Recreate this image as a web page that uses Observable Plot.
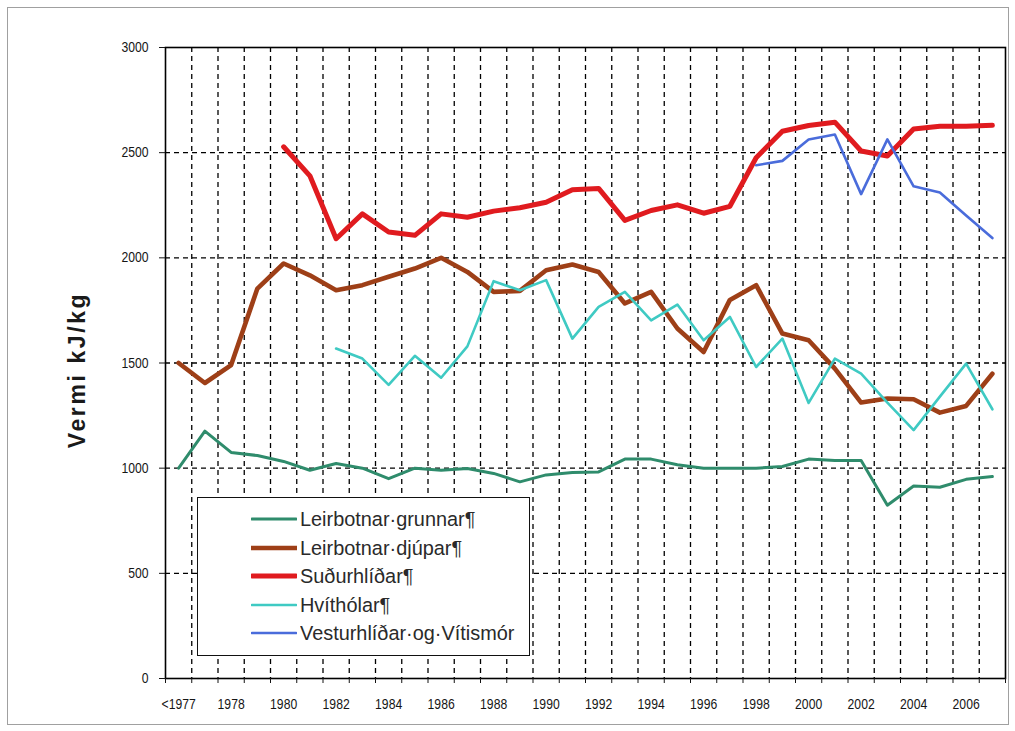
<!DOCTYPE html>
<html>
<head>
<meta charset="utf-8">
<script src="https://cdn.jsdelivr.net/npm/d3@7"></script>
<script src="https://cdn.jsdelivr.net/npm/@observablehq/plot@0.6"></script>
<style>
  html, body { margin: 0; padding: 0; background: #fff; }
  #wrap { position: relative; width: 1015px; height: 731px; font-family: "Liberation Sans", Arial, sans-serif; }
  #outer { position: absolute; left: 7px; top: 7px; width: 1000px; height: 716px; border: 1px solid #a0a0a0; pointer-events: none; }
  #legend { position: absolute; left: 197px; top: 497px; width: 331px; height: 157px; border: 1.5px solid #111; background: #fff; }
  .row { position: absolute; left: 0; height: 28px; display: flex; align-items: center; }
  .row svg { margin-left: 53px; }
  .row span { margin-left: 3px; font-size: 20.5px; color: #2a2a2a; white-space: nowrap; display: inline-block; transform: scaleX(0.97); transform-origin: left center; }
</style>
</head>
<body>
<div id="wrap">
  <div id="chart"></div>
  <div id="legend"></div>
  <div id="outer"></div>
</div>
<script>
// ---- data ----
const categories = ["<1977","1977","1978","1979","1980","1981","1982","1983","1984","1985","1986","1987","1988","1989","1990","1991","1992","1993","1994","1995","1996","1997","1998","1999","2000","2001","2002","2003","2004","2005","2006","2007"];

const leirbotnarGrunnar = [1000,1176,1075,1060,1032,990,1022,1000,950,1000,990,998,975,935,968,979,982,1043,1043,1016,1000,1000,1000,1008,1043,1037,1037,824,915,909,947,960];
const leirbotnarDjupar  = [1500,1405,1490,1854,1973,1917,1846,1870,1910,1949,2000,1933,1838,1843,1941,1968,1933,1783,1838,1664,1552,1800,1870,1640,1608,1473,1312,1331,1328,1264,1296,1449];
const sudurhlidar = [null,null,null,null,2528,2390,2091,2209,2123,2107,2209,2193,2222,2238,2264,2324,2330,2178,2225,2252,2212,2245,2476,2602,2629,2645,2508,2484,2613,2626,2626,2630];
const hvitholar = [null,null,null,null,null,null,1569,1521,1396,1534,1430,1579,1889,1846,1894,1616,1767,1838,1703,1778,1608,1719,1481,1616,1310,1521,1449,1312,1181,1340,1497,1280];
const vesturhlidar = [null,null,null,null,null,null,null,null,null,null,null,null,null,null,null,null,null,null,null,null,null,null,2440,2461,2563,2586,2303,2563,2340,2311,2201,2094];

const seriesNames = ["Leirbotnar·grunnar¶","Leirbotnar·djúpar¶","Suðurhlíðar¶","Hvíthólar¶","Vesturhlíðar·og·Vítismór"];
const seriesValues = [leirbotnarGrunnar, leirbotnarDjupar, sudurhlidar, hvitholar, vesturhlidar];
const yTicks = [0,500,1000,1500,2000,2500,3000];
const yLabel = "Vermi kJ/kg";

// ---- styles ----
const seriesColors = ["#2f8c6c","#9e3f17","#e01b1f","#3fcac3","#4a6cdb"];
const seriesWidths = [3, 4.6, 5, 2.6, 2.6];

// ---- build ----
const rows = seriesNames.flatMap((name, s) =>
  seriesValues[s].map((v, i) => ({i, v, name})).filter(d => d.v != null));

const n = categories.length;
const boundaryTicks = d3.range(n + 1).map(k => k - 0.5);
const innerBoundaries = boundaryTicks.slice(1, -1);
const labelTicks = d3.range(n).filter(i => i % 2 === 0);

const chart = Plot.plot({
  width: 1015,
  height: 731,
  marginLeft: 165,
  marginRight: 10,
  marginTop: 47,
  marginBottom: 53,
  style: {fontFamily: "'Liberation Sans', Arial, sans-serif", fontSize: "14px", color: "#151515", background: "#fff"},
  x: {type: "linear", domain: [-0.5, n - 0.5]},
  y: {domain: [0, 3000]},
  marks: [
    Plot.gridY({ticks: yTicks.slice(1, -1), stroke: "#000", strokeOpacity: 1, strokeWidth: 1.3, strokeDasharray: "5,4"}),
    Plot.gridX({ticks: innerBoundaries, stroke: "#000", strokeOpacity: 1, strokeWidth: 1.3, strokeDasharray: "5,4"}),
    ...seriesNames.map((name, s) =>
      Plot.lineY(rows.filter(d => d.name === name), {x: "i", y: "v", stroke: seriesColors[s], strokeWidth: seriesWidths[s], strokeLinejoin: "round", strokeLinecap: "round"})),
    Plot.frame({stroke: "#000", strokeWidth: 1.6}),
    Plot.axisY({ticks: yTicks, tickSize: 6, tickPadding: 11, tickFormat: d => String(d), label: null}),
    Plot.axisX({ticks: boundaryTicks, tickSize: 5, tickFormat: () => "", label: null}),
    Plot.axisX({ticks: labelTicks, tickSize: 0, tickPadding: 20, tickFormat: i => categories[i], label: null})
  ]
});
document.getElementById("chart").appendChild(chart);

// larger, horizontally condensed tick labels, like the original
chart.querySelectorAll("text").forEach(t => {
  if (!t.textContent) return;
  t.style.fontSize = "14.5px";
  t.setAttribute("font-size", "14.5");
  const b = t.getBBox();
  const g = t.closest("[text-anchor]");
  const anchor = (t.getAttribute("text-anchor") || (g && g.getAttribute("text-anchor")) || "start");
  const ox = anchor === "end" ? b.x + b.width : anchor === "middle" ? b.x + b.width / 2 : b.x;
  t.setAttribute("transform", (t.getAttribute("transform") || "") + ` translate(${ox},0) scale(0.84,1) translate(${-ox},0)`);
});

// y-axis title
d3.select(chart).append("text")
  .attr("transform", "translate(85,370) rotate(-90)")
  .attr("text-anchor", "middle")
  .attr("font-weight", "bold")
  .attr("font-size", 23)
  .style("font-size", "23px")
  .attr("letter-spacing", 2.6)
  .attr("fill", "#1a1a1a")
  .text(yLabel);

// legend
const legend = d3.select("#legend");
seriesNames.forEach((name, s) => {
  const row = legend.append("div").attr("class", "row").style("top", (7 + s * 28.6) + "px");
  const sw = row.append("svg").attr("width", 46).attr("height", 10);
  sw.append("line").attr("x1", 1).attr("x2", 45).attr("y1", 5).attr("y2", 5)
    .attr("stroke", seriesColors[s]).attr("stroke-width", seriesWidths[s]).attr("stroke-linecap", "round");
  row.append("span").text(name);
});
</script>
</body>
</html>
